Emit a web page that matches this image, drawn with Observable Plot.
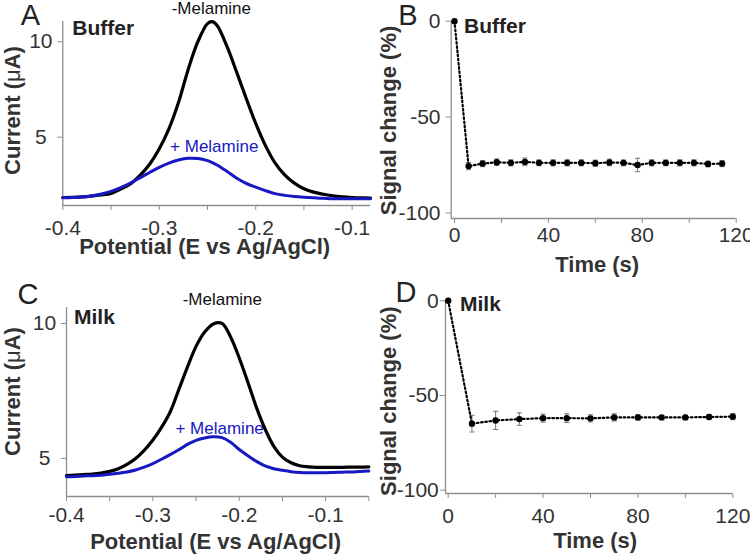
<!DOCTYPE html>
<html><head><meta charset="utf-8">
<script src="https://cdn.jsdelivr.net/npm/d3@7"></script>
<script src="https://cdn.jsdelivr.net/npm/@observablehq/plot@0.6"></script>
<style>
html,body{margin:0;padding:0;background:#fff;overflow:hidden}
#root{position:relative;width:750px;height:554px;overflow:hidden;background:#fff}
#root > svg{position:absolute;overflow:visible}
</style></head><body><div id="root"></div>
<script>
// ---------- data ----------
// Panel A (Buffer): square-wave voltammograms
const potentialA = [-0.40,-0.39,-0.38,-0.37,-0.36,-0.35,-0.34,-0.33,-0.32,-0.31,-0.30,-0.29,-0.28,-0.27,-0.26,-0.25,-0.245,-0.24,-0.23,-0.22,-0.21,-0.20,-0.19,-0.18,-0.17,-0.16,-0.15,-0.14,-0.13,-0.12,-0.11,-0.10,-0.09,-0.081];
const currentA_noMelamine = [1.84,1.85,1.87,1.92,1.97,2.05,2.28,2.55,3.00,3.58,4.39,5.44,6.83,8.55,10.0,10.95,11.05,10.85,9.78,8.44,7.05,5.72,4.57,3.65,3.02,2.59,2.30,2.12,2.01,1.92,1.87,1.84,1.82,1.81];
const currentA_melamine = [1.82,1.84,1.87,1.92,2.02,2.16,2.36,2.60,2.87,3.15,3.42,3.64,3.80,3.89,3.88,3.77,3.67,3.54,3.21,2.86,2.58,2.38,2.20,2.04,1.95,1.89,1.85,1.82,1.80,1.78,1.77,1.77,1.77,1.77];

// Panel C (Milk)
const potentialC = [-0.40,-0.39,-0.38,-0.37,-0.36,-0.35,-0.34,-0.33,-0.32,-0.31,-0.30,-0.29,-0.28,-0.27,-0.26,-0.25,-0.24,-0.23,-0.22,-0.21,-0.20,-0.19,-0.18,-0.17,-0.16,-0.15,-0.14,-0.13,-0.12,-0.11,-0.10,-0.09,-0.08,-0.07,-0.06,-0.05];
const currentC_noMelamine = [4.36,4.38,4.40,4.42,4.46,4.52,4.62,4.78,5.00,5.30,5.68,6.15,6.72,7.55,8.38,9.15,9.68,9.98,10.0,9.50,8.72,7.82,6.88,6.08,5.45,5.05,4.84,4.73,4.69,4.67,4.67,4.67,4.67,4.68,4.68,4.69];
const currentC_melamine = [4.32,4.33,4.35,4.36,4.38,4.41,4.45,4.50,4.57,4.68,4.81,4.97,5.14,5.32,5.52,5.67,5.76,5.80,5.77,5.60,5.33,5.10,4.89,4.72,4.62,4.56,4.51,4.48,4.47,4.47,4.47,4.48,4.49,4.50,4.52,4.53];

// Panel B (Buffer): signal change over time
const timeB = [0,6,12,18,24,30,36,42,48,54,60,66,72,78,84,90,96,102,108,114];
const signalB = [0,-75.5,-74.2,-73.5,-73.8,-73.3,-73.8,-73.8,-73.8,-73.8,-74.0,-73.6,-73.8,-74.9,-73.8,-73.8,-73.8,-73.8,-74.4,-74.2];
const errorB = [0,1.9,1.6,1.7,1.6,2.0,1.5,1.6,1.6,1.6,1.6,1.7,1.5,3.5,1.6,1.5,1.6,1.6,1.5,1.6];

// Panel D (Milk)
const timeD = [0,10,20,30,40,50,60,70,80,90,100,110,120];
const signalD = [0,-64.9,-63.2,-62.5,-62.0,-62.0,-62.1,-61.6,-61.6,-61.6,-61.6,-61.4,-61.2];
const errorD = [0,4.4,4.8,3.3,2.1,2.3,1.9,1.9,1.4,1.0,1.2,1.2,1.6];

// ticks
const potentialTicks = [-0.4,-0.3,-0.2,-0.1];
const potentialMinorA = [-0.35,-0.25,-0.15];
const potentialMinorC = [-0.35,-0.25,-0.15,-0.05];
const currentTicks = [5,10];
const timeTicks = [0,40,80,120];
const timeMinor = [20,60,100];
const signalTicks = [0,-50,-100];

// ---------- rendering ----------
const FONT = "'Liberation Sans', Arial, Helvetica, sans-serif";
const AXIS = "#8e8e8e", TEXT = "#333", BLUE = "#1717c4";
const TICKFONT = 21;
const fmt = d => String(d);
const style = {fontFamily: FONT, fontSize: "21px", color: TEXT, background: "transparent", overflow: "visible"};
const capSymbol = {draw(ctx, size) { const r = Math.sqrt(size / Math.PI); ctx.moveTo(-r, 0); ctx.lineTo(r, 0); }};
const root = document.getElementById("root");

function place(svg, left, top) {
  svg.style.left = left + "px"; svg.style.top = top + "px";
  svg.querySelectorAll("text").forEach(t => {
    if (t.textContent === "Current (\u03bcA)") {
      t.textContent = "Current (";
      const mu = document.createElementNS("http://www.w3.org/2000/svg", "tspan");
      mu.setAttribute("font-weight", "normal");
      mu.textContent = "\u03bc";
      t.appendChild(mu);
      t.appendChild(document.createTextNode("A)"));
    }
  });
  root.appendChild(svg);
}

function label(text, opts) {
  return Plot.text([text], {text: d => d, fill: TEXT, fontSize: 22, fontWeight: "bold", textAnchor: "middle", ...opts});
}
function corner(text, pos, size, weight) {
  return Plot.text([text], {text: d => d, frameAnchor: "top-left", textAnchor: "start", lineAnchor: "middle", dx: pos[0], dy: pos[1], fill: "#222", fontSize: size, fontWeight: weight});
}

function cvPanel(cfg) {
  const rows = cfg.potential.map((p, i) => ({p, a: cfg.noMel[i], b: cfg.mel[i]}));
  const peak = cfg.potential[d3.maxIndex(cfg.noMel)];
  return Plot.plot({
    width: 375, height: 277, ...cfg.margins, style,
    x: {domain: cfg.xDomain}, y: {domain: cfg.yDomain},
    marks: [
      Plot.axisX({ticks: potentialTicks, tickSize: 5, tickPadding: cfg.xPad, tickFormat: fmt, stroke: AXIS, fill: TEXT, fontSize: TICKFONT, label: null}),
      Plot.axisX({ticks: cfg.minor, tickSize: 5, tickFormat: () => "", stroke: AXIS, label: null}),
      Plot.axisY({ticks: currentTicks, tickSize: 5, tickPadding: 17, textAnchor: "middle", tickFormat: fmt, stroke: AXIS, fill: TEXT, fontSize: TICKFONT, label: null}),
      Plot.ruleX([cfg.xDomain[0]], {stroke: AXIS, strokeWidth: 1.3}),
      Plot.ruleY([cfg.yDomain[0]], {stroke: AXIS, strokeWidth: 1.3}),
      Plot.line(rows, {x: "p", y: "a", stroke: "#000", strokeWidth: 3.2, curve: "catmull-rom"}),
      Plot.line(rows, {x: "p", y: "b", stroke: BLUE, strokeWidth: 3, curve: "catmull-rom"}),
      Plot.text(["-Melamine"], {text: d => d, x: peak + cfg.minusDx, frameAnchor: "top", lineAnchor: "middle", dy: cfg.minusDy, fill: "#111", fontSize: 17}),
      Plot.text(["+ Melamine"], {text: d => d, x: cfg.plus[0], y: cfg.plus[1], fill: BLUE, fontSize: 17}),
      corner(cfg.matrix, cfg.matrixPos, 21, "bold"),
      corner(cfg.letter, cfg.letterPos, 29, "normal"),
      label("Potential (E vs Ag/AgCl)", {frameAnchor: "bottom", lineAnchor: "top", dx: cfg.xLabel[0], dy: cfg.xLabel[1]}),
      label("Current (\u03bcA)", {frameAnchor: "left", rotate: -90, lineAnchor: "top", dx: cfg.yLabel[0], dy: cfg.yLabel[1]})
    ]
  });
}

function timePanel(cfg) {
  const rows = cfg.time.map((t, i) => ({t, v: cfg.signal[i], e: cfg.error[i]}));
  const withErr = rows.filter(d => d.e > 0);
  return Plot.plot({
    width: 375, height: 277, ...cfg.margins, style,
    x: {domain: cfg.xDomain}, y: {domain: cfg.yDomain},
    marks: [
      Plot.axisX({ticks: timeTicks, tickSize: 5, tickPadding: cfg.xPad, tickFormat: fmt, stroke: AXIS, fill: TEXT, fontSize: TICKFONT, label: null}),
      Plot.axisX({ticks: timeMinor, tickSize: 5, tickFormat: () => "", stroke: AXIS, label: null}),
      Plot.axisY({ticks: signalTicks, tickSize: 5, tickPadding: cfg.yPad, tickFormat: fmt, stroke: AXIS, fill: TEXT, fontSize: TICKFONT, label: null}),
      Plot.ruleX([cfg.xDomain[0]], {stroke: AXIS, strokeWidth: 1.3}),
      Plot.ruleY([cfg.yDomain[0]], {stroke: AXIS, strokeWidth: 1.3}),
      Plot.ruleX(withErr, {x: "t", y1: d => d.v - d.e, y2: d => d.v + d.e, stroke: "#777", strokeWidth: 1}),
      Plot.dot(withErr, {x: "t", y: d => d.v + d.e, symbol: capSymbol, r: 2.6, fill: "none", stroke: "#777", strokeWidth: 1}),
      Plot.dot(withErr, {x: "t", y: d => d.v - d.e, symbol: capSymbol, r: 2.6, fill: "none", stroke: "#777", strokeWidth: 1}),
      Plot.line(rows, {x: "t", y: "v", stroke: "#000", strokeWidth: 2.2, strokeDasharray: "1.6,2.6"}),
      Plot.dot(rows, {x: "t", y: "v", r: 3.2, fill: "#000"}),
      corner(cfg.matrix, cfg.matrixPos, 21, "bold"),
      corner(cfg.letter, cfg.letterPos, 29, "normal"),
      label("Time (s)", {frameAnchor: "bottom", lineAnchor: "top", dx: cfg.xLabel[0], dy: cfg.xLabel[1]}),
      label("Signal change (%)", {frameAnchor: "left", rotate: -90, lineAnchor: "top", dx: cfg.yLabel[0], dy: cfg.yLabel[1]})
    ]
  });
}

place(cvPanel({
  potential: potentialA, noMel: currentA_noMelamine, mel: currentA_melamine,
  xDomain: [-0.4, -0.081], yDomain: [1.42, 11.06], minor: potentialMinorA,
  margins: {marginLeft: 62.3, marginRight: 5, marginTop: 21, marginBottom: 72},
  xPad: 10, minusDx: -0.001, minusDy: -13, plus: [-0.243, 4.5],
  matrix: "Buffer", matrixPos: [9.5, 6.5], letter: "A", letterPos: [-42, -6],
  xLabel: [-12, 33], yLabel: [-58.3, -3]
}), 0, 0);

place(timePanel({
  time: timeB, signal: signalB, error: errorB,
  xDomain: [-1.4, 120], yDomain: [-102.8, 0],
  margins: {marginLeft: 75.7, marginRight: 14.3, marginTop: 20.7, marginBottom: 59},
  xPad: 4, yPad: 5.7,
  matrix: "Buffer", matrixPos: [12.8, 4.8], letter: "B", letterPos: [-53, -5.7],
  xLabel: [3.5, 38], yLabel: [-70.7, 0.6]
}), 375, 0);

place(cvPanel({
  potential: potentialC, noMel: currentC_noMelamine, mel: currentC_melamine,
  xDomain: [-0.4, -0.05], yDomain: [3.59, 10.59], minor: potentialMinorC,
  margins: {marginLeft: 66, marginRight: 6.7, marginTop: 30, marginBottom: 58},
  xPad: 6, minusDx: 0.0004, minusDy: -7.5, plus: [-0.2227, 6.12],
  matrix: "Milk", matrixPos: [7.5, 9.5], letter: "C", letterPos: [-49, -13],
  xLabel: [-2, 36.5], yLabel: [-62, -10.5]
}), 0, 277);

place(timePanel({
  time: timeD, signal: signalD, error: errorD,
  xDomain: [-1.14, 120], yDomain: [-101.8, 0],
  margins: {marginLeft: 70, marginRight: 17.7, marginTop: 23.3, marginBottom: 61},
  xPad: 9.3, yPad: 1.7,
  matrix: "Milk", matrixPos: [14.5, 3.2], letter: "D", letterPos: [-50, -8.3],
  xLabel: [6, 38.7], yLabel: [-65.5, 4]
}), 375, 277);
</script></body></html>
